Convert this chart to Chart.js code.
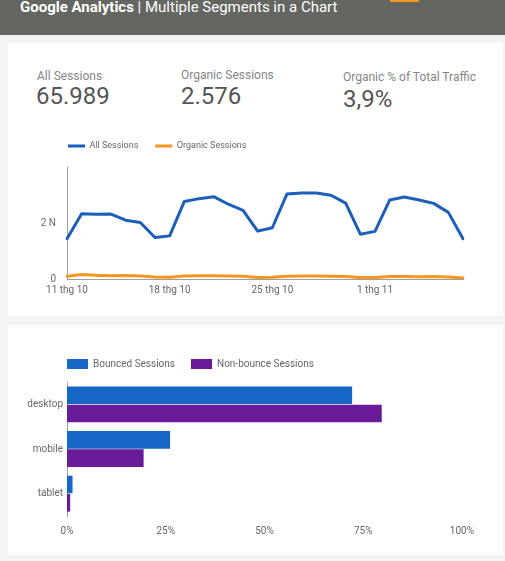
<!DOCTYPE html>
<html>
<head>
<meta charset="utf-8">
<script src="https://cdn.jsdelivr.net/npm/chart.js@4/dist/chart.umd.min.js"></script>
<style>
  html, body { margin: 0; padding: 0; }
  body { width: 505px; height: 561px; background: #f5f3f5; position: relative; overflow: hidden; font-family: Roboto, sans-serif; }
  .header { position: absolute; left: 0; top: 0; width: 505px; height: 35px; background: #646661; }
  .header .title { position: absolute; left: 20px; top: 0; font-size: 15px; line-height: 15px; color: #fff; white-space: nowrap; }
  .header .tab { position: absolute; left: 390px; top: 0; width: 29px; height: 2px; background: #f49a1a; }
  .card { position: absolute; left: 8px; width: 495px; background: #fff; }
  .lbl { position: absolute; font-size: 12px; line-height: 12px; color: #858585; white-space: nowrap; }
  .val { position: absolute; font-size: 24px; line-height: 24px; color: #555; white-space: nowrap; }
  canvas { position: absolute; }
</style>
</head>
<body>
<div class="header">
  <div class="title"><b>Google Analytics</b> | Multiple Segments in a Chart</div>
  <div class="tab"></div>
</div>
<div class="card" style="top:43px;height:273px;"></div>
<div class="card" style="top:325px;height:230px;"></div>

<div class="lbl" style="left:37px;top:70px;">All Sessions</div>
<div class="val" style="left:36px;top:84px;">65.989</div>
<div class="lbl" style="left:181px;top:69px;">Organic Sessions</div>
<div class="val" style="left:181px;top:84px;">2.576</div>
<div class="lbl" style="left:343px;top:71px;">Organic % of Total Traffic</div>
<div class="val" style="left:343px;top:87px;">3,9%</div>

<div style="position:absolute;left:20px;top:121px;width:460px;height:181px;"><canvas id="lineChart"></canvas></div>
<div style="position:absolute;left:20px;top:336px;width:463px;height:204px;"><canvas id="barChart"></canvas></div>

<script>
// sessions per day, 11 thg 10 -> 7 thg 11
const days = [
  "11 thg 10", "12 thg 10", "13 thg 10", "14 thg 10", "15 thg 10", "16 thg 10", "17 thg 10",
  "18 thg 10", "19 thg 10", "20 thg 10", "21 thg 10", "22 thg 10", "23 thg 10", "24 thg 10",
  "25 thg 10", "26 thg 10", "27 thg 10", "28 thg 10", "29 thg 10", "30 thg 10", "31 thg 10",
  "1 thg 11", "2 thg 11", "3 thg 11", "4 thg 11", "5 thg 11", "6 thg 11", "7 thg 11"
];
const allSessions = [
  1440, 2330, 2310, 2320, 2100, 2020, 1480,
  1540, 2770, 2870, 2940, 2670, 2450, 1710,
  1830, 3040, 3070, 3070, 2990, 2710, 1600,
  1700, 2820, 2930, 2820, 2700, 2380, 1440
];
const organicSessions = [
  100, 160, 130, 120, 125, 105, 75,
  60, 105, 115, 115, 105, 95, 55,
  65, 100, 105, 105, 95, 85, 50,
  50, 90, 85, 80, 90, 75, 35
];
const yTickLabels = { 0: "0", 2000: "2 N" };

const devices = ["desktop", "mobile", "tablet"];
const bouncedPct = [72.2, 26.1, 1.4];
const nonBouncePct = [79.7, 19.4, 0.8];
const xPctTicks = [0, 25, 50, 75, 100];

const FONT = "Roboto";
const TEXT = "#666666";
const AXIS = "#9e9e9e";

// moves the legend after layout so it lines up with the plot like in Data Studio
const legendNudge = {
  id: "legendNudge",
  afterLayout(chart, args, opts) {
    const lg = chart.legend;
    if (!lg) return;
    lg.left += opts.dx || 0;
    lg.right += opts.dx || 0;
    lg.top += opts.dy || 0;
    lg.bottom += opts.dy || 0;
  }
};

new Chart(document.getElementById("lineChart"), {
  type: "line",
  plugins: [legendNudge],
  data: {
    labels: days,
    datasets: [
      { label: "All Sessions", data: allSessions, borderColor: "#1c5fb8", backgroundColor: "#1c5fb8", borderWidth: 3 },
      { label: "Organic Sessions", data: organicSessions, borderColor: "#f4961f", backgroundColor: "#f4961f", borderWidth: 3 }
    ]
  },
  options: {
    responsive: true,
    maintainAspectRatio: false,
    animation: false,
    layout: { padding: { top: 10, right: 17, left: 0, bottom: 0 } },
    elements: { point: { radius: 0 }, line: { tension: 0, borderCapStyle: "round", borderJoinStyle: "round" } },
    plugins: {
      tooltip: { enabled: false },
      legendNudge: { dx: 31, dy: -6.5 },
      legend: {
        align: "start",
        labels: {
          usePointStyle: true,
          pointStyle: "line",
          pointStyleWidth: 17,
          padding: 17,
          color: TEXT,
          font: { family: FONT, size: 9 }
        }
      }
    },
    scales: {
      x: {
        grid: { display: false, drawTicks: false },
        border: { display: true, color: AXIS },
        ticks: {
          autoSkip: false,
          maxRotation: 0,
          padding: 5,
          color: TEXT,
          font: { family: FONT, size: 10 },
          callback: (v, i) => (i % 7 === 0 ? days[i] : "")
        },
        afterFit: (s) => { s.height = 23; }
      },
      y: {
        min: 0,
        max: 4000,
        grid: { display: false, drawTicks: false },
        border: { display: true, color: AXIS },
        afterBuildTicks: (s) => { s.ticks = Object.keys(yTickLabels).map((v) => ({ value: +v })); },
        ticks: {
          padding: 11,
          color: TEXT,
          font: { family: FONT, size: 10 },
          callback: (v) => yTickLabels[v]
        },
        afterFit: (s) => { s.width = 47; }
      }
    }
  }
});

new Chart(document.getElementById("barChart"), {
  type: "bar",
  plugins: [legendNudge],
  data: {
    labels: devices,
    datasets: [
      { label: "Bounced Sessions", data: bouncedPct, backgroundColor: "#1666c5" },
      { label: "Non-bounce Sessions", data: nonBouncePct, backgroundColor: "#6a1b9a" }
    ]
  },
  options: {
    indexAxis: "y",
    responsive: true,
    maintainAspectRatio: false,
    animation: false,
    layout: { padding: { top: 10, right: 15, left: 0, bottom: 0 } },
    datasets: { bar: { categoryPercentage: 0.82, barPercentage: 0.96 } },
    plugins: {
      tooltip: { enabled: false },
      legendNudge: { dx: 31, dy: -3 },
      legend: {
        align: "start",
        labels: {
          boxWidth: 21,
          boxHeight: 10,
          padding: 16,
          color: TEXT,
          font: { family: FONT, size: 10 }
        }
      }
    },
    scales: {
      x: {
        min: 0,
        max: 100,
        grid: { display: false, drawTicks: false },
        border: { display: false },
        afterBuildTicks: (s) => { s.ticks = xPctTicks.map((v) => ({ value: v })); },
        ticks: {
          padding: 9,
          color: TEXT,
          font: { family: FONT, size: 10 },
          callback: (v) => v + "%"
        },
        afterFit: (s) => { s.height = 24; }
      },
      y: {
        grid: { display: false, drawTicks: false },
        border: { display: true, color: AXIS },
        ticks: {
          padding: 4,
          color: TEXT,
          font: { family: FONT, size: 10 }
        },
        afterFit: (s) => { s.width = 47; }
      }
    }
  }
});
</script>
</body>
</html>
